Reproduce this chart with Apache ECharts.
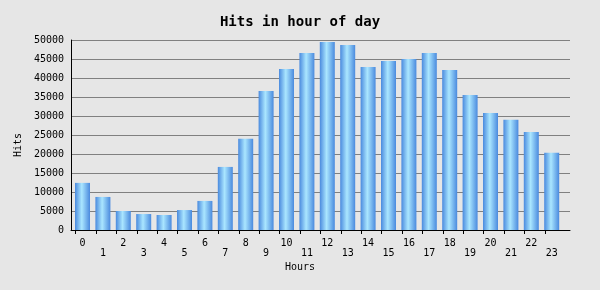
<!DOCTYPE html>
<html>
<head>
<meta charset="utf-8">
<script src="https://cdn.jsdelivr.net/npm/echarts@6/dist/echarts.min.js"></script>
<style>
html,body{margin:0;padding:0;background:#e6e6e6;}
#chart{width:600px;height:290px;}
</style>
</head>
<body>
<div id="chart"></div>
<script>
const titleText = 'Hits in hour of day';
const xAxisTitle = 'Hours';
const yAxisTitle = 'Hits';
const hours = ['0','1','2','3','4','5','6','7','8','9','10','11','12','13','14','15','16','17','18','19','20','21','22','23'];
const hits = [12400, 8700, 5000, 4200, 3950, 5250, 7650, 16600, 24000, 36600, 42400, 46600, 49500, 48700, 42900, 44500, 45000, 46600, 42100, 35500, 30800, 29000, 25800, 20300];
const yMin = 0, yMax = 50000, yStep = 5000;

const FONT = 'DejaVu Sans Mono';
const chart = echarts.init(document.getElementById('chart'), null, {renderer:'canvas'});
const barGrad = new echarts.graphic.LinearGradient(0,0,1,0,[
  {offset:0, color:'#4a8ade'},
  {offset:0.45, color:'#aae6ff'},
  {offset:1, color:'#4a8ade'}
]);
chart.setOption({
  backgroundColor:'#e6e6e6',
  animation:false,
  title:{text:titleText, left:'center', top:10,
    textStyle:{fontFamily:FONT, fontSize:14, fontWeight:'bold', color:'#000'}},
  graphic:[
    {type:'text', left:285, top:262, style:{text:xAxisTitle, font:'10px "DejaVu Sans Mono"', fill:'#000'}},
    {type:'text', x:13, y:157, rotation:Math.PI/2, style:{text:yAxisTitle, font:'10px "DejaVu Sans Mono"', fill:'#000'}}
  ],
  grid:[
    {left:71, top:40, width:499, height:190},
    {left:72.3, top:40, width:489.6, height:190},
    {left:75.7, top:40, width:469.2, height:190}
  ],
  xAxis:[
    {gridIndex:0, type:'value', min:0, max:1, axisLine:{show:true, lineStyle:{color:'#000'}},
      axisTick:{show:false}, axisLabel:{show:false}, splitLine:{show:false}},
    {gridIndex:1, type:'category', data:hours, axisLine:{show:false}, axisTick:{show:false},
      axisLabel:{interval:0, margin:8, fontFamily:FONT, fontSize:10, color:'#000', lineHeight:10,
        formatter:(v,i)=> (i%2 ? '\n'+v : v)}},
    {gridIndex:2, type:'value', min:0, max:23, interval:1, axisLine:{show:false},
      axisTick:{show:true, length:4, lineStyle:{color:'#000'}}, axisLabel:{show:false}, splitLine:{show:false}}
  ],
  yAxis:[
    {gridIndex:0, type:'value', min:yMin, max:yMax, interval:yStep,
      axisLine:{show:true, lineStyle:{color:'#000'}}, axisTick:{show:false},
      axisLabel:{margin:7, fontFamily:FONT, fontSize:10, color:'#000', formatter:v=>String(v)},
      splitLine:{show:true, lineStyle:{color:'#808080', width:1}}},
    {gridIndex:1, type:'value', min:yMin, max:yMax, show:false},
    {gridIndex:2, type:'value', min:yMin, max:yMax, show:false}
  ],
  series:[{
    type:'bar', xAxisIndex:1, yAxisIndex:1, data:hits, barWidth:15,
    itemStyle:{color:barGrad}
  }]
});
</script>
</body>
</html>
